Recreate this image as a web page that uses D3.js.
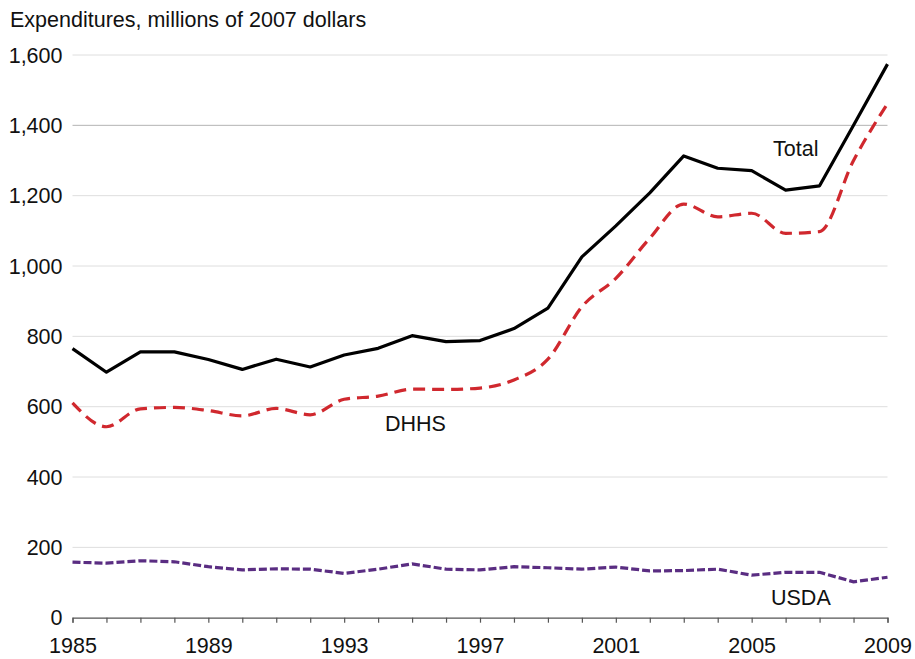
<!DOCTYPE html>
<html>
<head>
<meta charset="utf-8">
<script src="https://cdn.jsdelivr.net/npm/d3@7"></script>
<style>
  body { margin: 0; background: #fff; }
  text { font-family: "Liberation Sans", Arial, sans-serif; fill: #111; }
</style>
</head>
<body>
<div id="chart"></div>
<script>
// Data
const years = d3.range(1985, 2010);
const totalValues = [765, 698, 756, 756, 734, 706, 735, 713, 747, 766, 802, 785,
  788, 822, 880, 1026, 1114, 1208, 1313, 1278, 1271, 1216, 1228, 1400, 1574];
const dhhsValues = [611, 543, 594, 598, 589, 574, 595, 577, 621, 630, 650, 649,
  653, 676, 735, 884, 965, 1079, 1176, 1140, 1150, 1093, 1098, 1300, 1462];
const usdaValues = [158, 155, 162, 159, 145, 136, 139, 138, 126, 138, 153, 138,
  136, 145, 142, 138, 144, 133, 134, 138, 121, 129, 129, 102, 115];
const yTicks = [0, 200, 400, 600, 800, 1000, 1200, 1400, 1600];
const xLabelYears = [1985, 1989, 1993, 1997, 2001, 2005, 2009];

const W = 915, H = 659;
const margin = { top: 55, right: 27.5, bottom: 41.3, left: 72.5 };
const width = W - margin.left - margin.right;
const height = H - margin.top - margin.bottom;
const fontSize = "21.5px";

const svg = d3.select("#chart").append("svg")
  .attr("width", W)
  .attr("height", H);

const g = svg.append("g")
  .attr("transform", `translate(${margin.left},${margin.top})`);

const x = d3.scaleLinear().domain([1985, 2009]).range([0, width]);
const y = d3.scaleLinear().domain([0, 1600]).range([height, 0]);

// Gridlines
g.selectAll(".grid")
  .data(yTicks.filter(d => d > 0))
  .enter().append("line")
  .attr("x1", 0)
  .attr("x2", width)
  .attr("y1", d => y(d))
  .attr("y2", d => y(d))
  .attr("stroke", d => d === 1400 ? "#b4b4b4" : "#dedede")
  .attr("stroke-width", 1);

// Y tick labels
g.selectAll(".ylab")
  .data(yTicks)
  .enter().append("text")
  .attr("x", -10)
  .attr("y", d => y(d))
  .attr("dy", "0.35em")
  .attr("text-anchor", "end")
  .style("font-size", fontSize)
  .text(d => d3.format(",")(d));

// X axis
const xAxis = g.append("g")
  .attr("transform", `translate(0,${height})`)
  .call(d3.axisBottom(x)
    .tickValues(years)
    .tickSize(5)
    .tickFormat(d => xLabelYears.includes(d) ? d : ""));
xAxis.select(".domain").attr("stroke", "#555").attr("stroke-width", 1.2);
xAxis.selectAll(".tick line").attr("stroke", "#555").attr("stroke-width", 1.2);
xAxis.selectAll(".tick text")
  .attr("y", 35)
  .attr("dy", 0)
  .style("font-size", fontSize)
  .style("font-family", "'Liberation Sans', Arial, sans-serif")
  .attr("fill", "#111");

// Axis title
svg.append("text")
  .attr("x", 10)
  .attr("y", 27)
  .style("font-size", fontSize)
  .text("Expenditures, millions of 2007 dollars");

const line = d3.line()
  .x((d, i) => x(years[i]))
  .y(d => y(d));

// USDA
g.append("path")
  .datum(usdaValues)
  .attr("d", line)
  .attr("fill", "none")
  .attr("stroke", "#5a2d82")
  .attr("stroke-width", 3.2)
  .attr("stroke-dasharray", "8,3");

// DHHS
g.append("path")
  .datum(dhhsValues)
  .attr("d", line.curve(d3.curveMonotoneX))
  .attr("fill", "none")
  .attr("stroke", "#d0282e")
  .attr("stroke-width", 3.2)
  .attr("stroke-dasharray", "12,7");

// Total
g.append("path")
  .datum(totalValues)
  .attr("d", line.curve(d3.curveLinear))
  .attr("fill", "none")
  .attr("stroke", "#000")
  .attr("stroke-width", 3.2)
  .attr("stroke-linejoin", "round");

// Series labels
svg.append("text").attr("x", 773).attr("y", 156).style("font-size", fontSize).text("Total");
svg.append("text").attr("x", 385).attr("y", 431).style("font-size", fontSize).text("DHHS");
svg.append("text").attr("x", 771).attr("y", 605).style("font-size", fontSize).text("USDA");
</script>
</body>
</html>
